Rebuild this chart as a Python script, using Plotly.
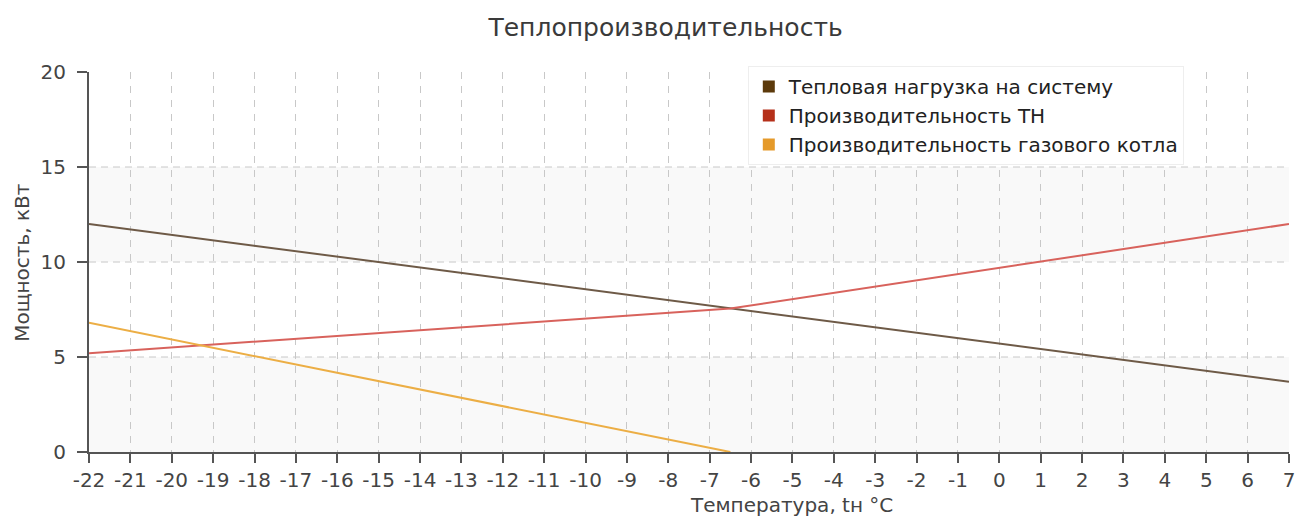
import plotly.graph_objects as go

# ---- data ----
x_load = [-22, 7]
load = [12.0, 3.7]
x_hp = [-22, -6.5, 7]
hp = [5.2, 7.55, 12.0]
x_gas = [-22, -6.5]
gas = [6.8, 0.0]

names = ["Тепловая нагрузка на систему", "Производительность ТН", "Производительность газового котла"]
line_colors = ["#6e5a47", "#d8625c", "#ecae45"]
legend_colors = ["#5c3a0b", "#b5301a", "#e59a2a"]

x_ticks = list(range(-22, 8))
y_ticks = [0, 5, 10, 15, 20]
y_grid = [5, 10, 15]
bands = [(0, 5), (10, 15)]

FONT = "DejaVu Sans, Verdana, sans-serif"

fig = go.Figure()
series = [(x_load, load), (x_hp, hp), (x_gas, gas)]
for (xs, ys), c in zip(series, line_colors):
    fig.add_trace(go.Scatter(x=xs, y=ys, mode="lines", line=dict(color=c, width=2),
                             showlegend=False, hoverinfo="x+y"))
for n, c in zip(names, legend_colors):
    fig.add_trace(go.Scatter(x=[None], y=[None], mode="markers", name=n,
                             marker=dict(symbol="square", size=9, color=c)))

shapes = []
for y0, y1 in bands:
    shapes.append(dict(type="rect", xref="paper", yref="y", x0=0, x1=1, y0=y0, y1=y1,
                       fillcolor="#f9f9f9", line=dict(width=0), layer="below"))
for g in y_grid:
    shapes.append(dict(type="line", xref="paper", yref="y", x0=0, x1=1, y0=g, y1=g,
                       line=dict(color="#c8c8c8", width=1, dash="7px,5px"), layer="below"))

fig.update_layout(
    width=1300, height=518,
    margin=dict(l=89, r=11, t=72, b=66),
    paper_bgcolor="white", plot_bgcolor="white",
    font=dict(family=FONT, size=20, color="#444"),
    title=dict(text="Теплопроизводительность", x=0.512, xanchor="center",
               y=0.948, yanchor="middle", yref="container",
               font=dict(family=FONT, size=25, color="#3a3a3a")),
    shapes=shapes,
    legend=dict(x=0.549, y=1.016, xanchor="left", yanchor="top",
                bgcolor="white", bordercolor="#eeeeee", borderwidth=1,
                font=dict(family=FONT, size=20, color="#222"),
                itemsizing="constant"),
    annotations=[
        dict(text="Температура, tн °С", xref="paper", yref="paper", x=0.585, y=-0.139,
             xanchor="center", yanchor="middle", showarrow=False,
             font=dict(family=FONT, size=20, color="#444")),
        dict(text="Мощность, кВт", xref="paper", yref="paper", x=-0.056, y=0.5,
             xanchor="center", yanchor="middle", showarrow=False, textangle=-90,
             font=dict(family=FONT, size=20, color="#444")),
    ],
)
fig.update_xaxes(range=[-22, 7], tickmode="array", tickvals=x_ticks,
                 ticktext=[str(v) for v in x_ticks],
                 showline=True, linecolor="#555", linewidth=2,
                 ticks="outside", ticklen=9, tickwidth=2, tickcolor="#555",
                 showgrid=True, gridcolor="#c8c8c8", gridwidth=1, griddash="7px,7px",
                 zeroline=False, tickfont=dict(size=20, color="#444"), automargin=False)
fig.update_yaxes(range=[0, 20], tickmode="array", tickvals=y_ticks,
                 showline=True, linecolor="#555", linewidth=2,
                 ticks="outside", ticklen=10, tickwidth=2, tickcolor="#555",
                 ticklabelstandoff=7,
                 showgrid=False, zeroline=False, tickfont=dict(size=20, color="#444"),
                 automargin=False)

fig.write_html("out.html", config={"displayModeBar": False},
               post_script="document.body.style.margin='0';document.body.style.overflow='hidden';")
